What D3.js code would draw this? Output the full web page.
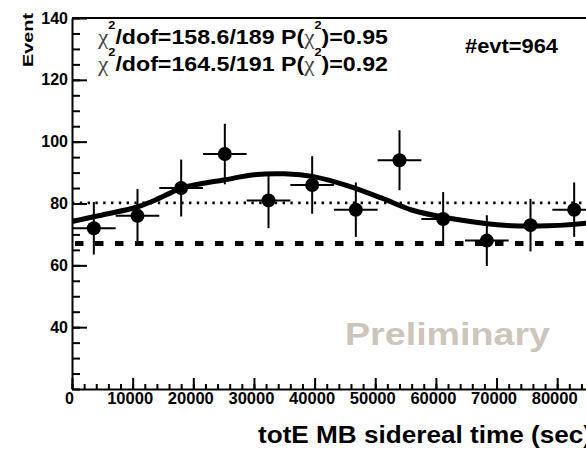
<!DOCTYPE html>
<html><head><meta charset="utf-8">
<script src="https://cdn.jsdelivr.net/npm/d3@7"></script>
<style>body{margin:0;background:#fff}svg{display:block}</style>
</head><body>
<script>
// ---- data ----
const binCenters = [3600,10800,18000,25200,32400,39600,46800,54000,61200,68400,75600,82800];
const counts = [72,76,85,96,81,86,78,94,75,68,73,78];
const countErrors = [8.5,8.7,9.2,9.8,9.0,9.3,8.8,9.7,8.7,8.2,8.5,8.8];
const binHalfWidth = 3600;
const fitTimes  = [0,5000,10500,13000,16000,18000,21000,25000,30000,35000,40000,45500,51000,56000,62000,67500,72500,78500,85000,86400];
const fitValues = [74.2,76.3,78.7,80.5,83.2,85.0,86.3,87.6,89.3,89.6,88.6,85.7,81.8,77.9,75.3,73.7,72.8,72.8,73.7,74.2];
const meanLevel = 80.2;
const flatLevel = 67.1;
const xMajorTicks = [0,10000,20000,30000,40000,50000,60000,70000,80000];
const xMinorTicks = d3.range(0, 86401, 2000);
const yMajorTicks = [40,60,80,100,120,140];
const yMinorTicks = d3.range(20, 141, 5);
const chi2Texts = ["158.6/189","164.5/191"];
const probTexts = ["0.95","0.92"];
const nEvents = "964";
const xTitle = "totE MB sidereal time (sec)";
const yTitle = "Event";
const watermark = "Preliminary";

// ---- drawing ----
const W = 586, H = 451;
const FONT = "'Liberation Sans', Arial, Helvetica, sans-serif";
const svg = d3.select("body").append("svg").attr("width", W).attr("height", H)
  .style("background", "#fff");

const x = d3.scaleLinear().domain([0, 86400]).range([72, 596]);
const y = d3.scaleLinear().domain([20, 140]).range([389, 18]);

svg.append("defs").append("clipPath").attr("id","plot")
  .append("rect").attr("x", x(0)).attr("y", y(140)).attr("width", x(86400)-x(0)).attr("height", y(20)-y(140));

// watermark
svg.append("text").attr("x", 345).attr("y", 345)
  .attr("font-family", FONT).attr("font-weight", "bold").attr("font-size", 32)
  .attr("fill", "#cdc5bb").attr("textLength", 205).attr("lengthAdjust","spacingAndGlyphs")
  .text(watermark);

const plot = svg.append("g").attr("clip-path", "url(#plot)");

// dotted mean line
plot.append("line").attr("x1", x(0)).attr("x2", x(86400)).attr("y1", y(meanLevel)).attr("y2", y(meanLevel))
  .attr("stroke", "#000").attr("stroke-width", 2.6).attr("stroke-dasharray", "2.4,5.4");
// dashed flat line
plot.append("line").attr("x1", x(0)).attr("x2", x(86400)).attr("y1", y(flatLevel)).attr("y2", y(flatLevel))
  .attr("stroke", "#000").attr("stroke-width", 5).attr("stroke-dasharray", "8.5,11.5").attr("stroke-dashoffset", 17);

// fit curve
const fitData = fitTimes.map((t, i) => [t, fitValues[i]]);
plot.append("path").datum(fitData)
  .attr("d", d3.line().x(d => x(d[0])).y(d => y(d[1])).curve(d3.curveCatmullRom.alpha(0.5)))
  .attr("fill", "none").attr("stroke", "#000").attr("stroke-width", 5).attr("stroke-linejoin","round");

// points with error bars
const pts = binCenters.map((c, i) => ({c, v: counts[i], e: countErrors[i]}));
const pg = plot.append("g").selectAll("g").data(pts).join("g");
pg.append("line").attr("x1", d => x(d.c - binHalfWidth)).attr("x2", d => x(d.c + binHalfWidth))
  .attr("y1", d => y(d.v)).attr("y2", d => y(d.v)).attr("stroke", "#000").attr("stroke-width", 2);
pg.append("line").attr("x1", d => x(d.c)).attr("x2", d => x(d.c))
  .attr("y1", d => y(d.v - d.e)).attr("y2", d => y(d.v + d.e)).attr("stroke", "#000").attr("stroke-width", 2);
pg.append("circle").attr("cx", d => x(d.c)).attr("cy", d => y(d.v)).attr("r", 7).attr("fill", "#000");

// axes
const yMinorAxis = svg.append("g").attr("transform", `translate(${x(0)},0)`)
  .call(d3.axisLeft(y).tickValues(yMinorTicks).tickSize(-8).tickFormat(""));
const yAxis = svg.append("g").attr("transform", `translate(${x(0)},0)`)
  .call(d3.axisLeft(y).tickValues(yMajorTicks).tickSize(-15).tickSizeOuter(0).tickPadding(4).tickFormat(d3.format("d")));
const xMinorAxis = svg.append("g").attr("transform", `translate(0,${y(20)})`)
  .call(d3.axisBottom(x).tickValues(xMinorTicks).tickSize(-5).tickFormat(""));
const xAxis = svg.append("g").attr("transform", `translate(0,${y(20)})`)
  .call(d3.axisBottom(x).tickValues(xMajorTicks).tickSize(-11).tickSizeOuter(0).tickPadding(4).tickFormat(d3.format("d")));

[yMinorAxis, xMinorAxis].forEach(g => g.select(".domain").remove());
svg.selectAll(".tick line").attr("stroke", "#000").attr("stroke-width", 2);
svg.selectAll(".domain").attr("stroke", "#000").attr("stroke-width", 2);
yAxis.selectAll("text").attr("font-family", FONT).attr("font-weight", "bold").attr("font-size", 16).attr("fill", "#000");
xAxis.selectAll("text").attr("font-family", FONT).attr("font-weight", "bold").attr("font-size", 16).attr("fill", "#000")
  .attr("dx", -3).attr("textLength", 46).attr("lengthAdjust", "spacingAndGlyphs");
xAxis.selectAll(".tick").filter(d => d === 0).select("text").attr("textLength", null);

// top frame
svg.append("line").attr("x1", x(0)).attr("x2", x(86400)).attr("y1", y(140)).attr("y2", y(140))
  .attr("stroke", "#000").attr("stroke-width", 2);

// axis titles
svg.append("text").attr("transform", "translate(33,13) rotate(-90)").attr("text-anchor", "end")
  .attr("font-family", FONT).attr("font-weight", "bold").attr("font-size", 15)
  .attr("textLength", 54).attr("lengthAdjust", "spacingAndGlyphs").text(yTitle);
svg.append("text").attr("x", 258).attr("y", 443)
  .attr("font-family", FONT).attr("font-weight", "bold").attr("font-size", 24)
  .attr("textLength", 334).attr("lengthAdjust", "spacingAndGlyphs").text(xTitle);

// statistics text
const baselines = [44, 71];
chi2Texts.forEach((c, i) => {
  const t = svg.append("text").attr("transform", `translate(98,${baselines[i]}) scale(1.16,1)`)
    .attr("font-family", FONT).attr("font-weight", "bold").attr("font-size", 20).attr("fill", "#000");
  t.append("tspan").attr("font-family", "'Liberation Serif', 'DejaVu Serif', serif").attr("font-weight", "normal").attr("fill", "#444").text("χ");
  t.append("tspan").attr("font-size", 11).attr("dy", -15).text("2");
  t.append("tspan").attr("dy", 15).text("/dof=" + c + " P(");
  t.append("tspan").attr("font-family", "'Liberation Serif', 'DejaVu Serif', serif").attr("font-weight", "normal").attr("fill", "#444").text("χ");
  t.append("tspan").attr("font-size", 11).attr("dy", -15).text("2");
  t.append("tspan").attr("dy", 15).text(")=" + probTexts[i]);
});
svg.append("text").attr("x", 465).attr("y", 53)
  .attr("font-family", FONT).attr("font-weight", "bold").attr("font-size", 21)
  .attr("textLength", 93).attr("lengthAdjust", "spacingAndGlyphs").text("#evt=" + nEvents);
</script>
</body></html>
